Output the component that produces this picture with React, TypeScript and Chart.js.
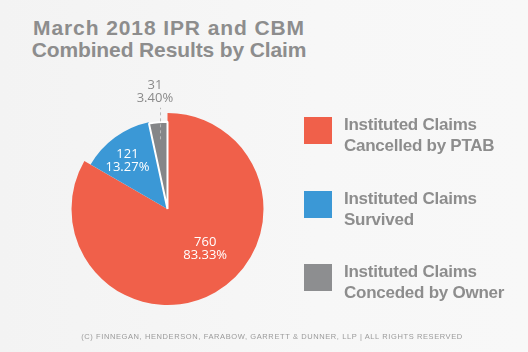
import React, { useEffect, useRef } from "react";
import { Chart, registerables } from "chart.js";

Chart.register(...registerables);

const categories = [
  "Instituted Claims Cancelled by PTAB",
  "Instituted Claims Survived",
  "Instituted Claims Conceded by Owner",
];
const legendLines = [
  ["Instituted Claims", "Cancelled by PTAB"],
  ["Instituted Claims", "Survived"],
  ["Instituted Claims", "Conceded by Owner"],
];
const counts = [760, 121, 31];
const percents = ["83.33%", "13.27%", "3.40%"];
const colors = ["#f0604a", "#3b98d6", "#858688"];
const legendColors = ["#f0604a", "#3b98d6", "#8d8e90"];
const radiusScale = [1, 0.925, 0.91];
const titleLines = ["March 2018 IPR and CBM", "Combined Results by Claim"];
const titleSpacing = [0.9, -0.12];
const footer = "(C) FINNEGAN, HENDERSON, FARABOW, GARRETT & DUNNER, LLP | ALL RIGHTS RESERVED";

const TEXT_GRAY = "#8d8d8d";

const sliceRadiusPlugin = {
  id: "sliceRadius",
  afterDatasetsUpdate(chart: any) {
    const meta = chart.getDatasetMeta(0);
    meta.data.forEach((arc: any, i: number) => {
      if (arc.$baseR === undefined) arc.$baseR = arc.outerRadius;
      arc.outerRadius = arc.$baseR * radiusScale[i];
    });
  },
};

// label placement: [fraction along arc, radius fraction]
const labelPlace = [
  [0.455, 0.57],
  [0.42, 0.65],
  [0.5, 1.23],
];

const labelsPlugin = {
  id: "sliceLabels",
  afterDatasetsDraw(chart: any) {
    const ctx = chart.ctx;
    const meta = chart.getDatasetMeta(0);
    ctx.save();
    ctx.font = "13px 'Open Sans'";
    ctx.textAlign = "center";
    ctx.textBaseline = "middle";
    meta.data.forEach((arc: any, i: number) => {
      const baseR = arc.$baseR ?? arc.outerRadius;
      const [f, rf] = labelPlace[i];
      const a = arc.startAngle + (arc.endAngle - arc.startAngle) * f;
      const r = baseR * rf;
      const x = arc.x + Math.cos(a) * r;
      const y = arc.y + Math.sin(a) * r;
      const outside = rf > 1;
      if (outside) {
        const am = (arc.startAngle + arc.endAngle) / 2;
        const lx = arc.x + Math.cos(am) * baseR * 0.73;
        const ly0 = arc.y + Math.sin(am) * baseR * 0.73;
        const ly1 = arc.y + Math.sin(am) * baseR * 1.06;
        ctx.strokeStyle = "#b9b9b9";
        ctx.lineWidth = 1;
        ctx.setLineDash([3, 3]);
        ctx.beginPath();
        ctx.moveTo(lx + 0.5, ly0);
        ctx.lineTo(lx + 0.5, ly1);
        ctx.stroke();
        ctx.setLineDash([]);
      }
      ctx.fillStyle = outside ? "#8a8a8a" : "#ffffff";
      ctx.fillText(String(counts[i]), x, y - 6.5);
      ctx.fillText(percents[i], x, y + 6.5);
    });
    ctx.restore();
  },
};

export default function App() {
  const ref = useRef<HTMLCanvasElement>(null);
  useEffect(() => {
    if (!ref.current) return;
    const chart = new Chart(ref.current, {
      type: "pie",
      data: {
        labels: categories,
        datasets: [
          {
            data: counts,
            backgroundColor: colors,
            borderColor: "#ffffff",
            borderWidth: [0, 0, 2],
          },
        ],
      },
      options: {
        responsive: false,
        animation: false,
        layout: { padding: { left: 70.5, top: 112, right: 263.5, bottom: 46 } },
        plugins: {
          legend: { display: false },
          tooltip: { enabled: false },
          title: { display: false },
        },
      },
      plugins: [sliceRadiusPlugin, labelsPlugin],
    });
    return () => chart.destroy();
  }, []);

  return (
    <div
      style={{
        position: "fixed",
        left: 0,
        top: 0,
        width: 528,
        height: 352,
        background: "linear-gradient(90deg, #f3f3f3 0%, #f7f7f7 60%, #f8f8f8 100%)",
        fontFamily: "'Liberation Sans', Arial, sans-serif",
        overflow: "hidden",
      }}
    >
      <div
        style={{
          position: "absolute",
          left: 0,
          top: 17,
          width: 338,
          textAlign: "center",
          fontSize: 21,
          lineHeight: "22px",
          fontWeight: 700,
          color: TEXT_GRAY,
        }}
      >
        {titleLines.map((t, i) => (
          <div key={t} style={{ letterSpacing: titleSpacing[i] }}>
            {t}
          </div>
        ))}
      </div>
      <canvas
        ref={ref}
        width={528}
        height={352}
        style={{ position: "absolute", left: 0, top: 0, width: 528, height: 352 }}
      />
      {legendLines.map((lines, i) => (
        <div key={i}>
          <div
            style={{
              position: "absolute",
              left: 304,
              top: 117 + i * 73.5,
              width: 28,
              height: 27,
              background: legendColors[i],
            }}
          />
          <div
            style={{
              position: "absolute",
              left: 344,
              top: 114 + i * 73.5,
              fontSize: 17,
              lineHeight: "21px",
              fontWeight: 700,
              letterSpacing: -0.25,
              color: TEXT_GRAY,
              whiteSpace: "nowrap",
            }}
          >
            {lines.map((t) => (
              <div key={t}>{t}</div>
            ))}
          </div>
        </div>
      ))}
      <div
        style={{
          position: "absolute",
          left: 0,
          width: 544,
          top: 332,
          textAlign: "center",
          fontSize: 7.5,
          lineHeight: "10px",
          letterSpacing: 0.6,
          color: "#9a9a9a",
          whiteSpace: "nowrap",
        }}
      >
        {footer}
      </div>
    </div>
  );
}
